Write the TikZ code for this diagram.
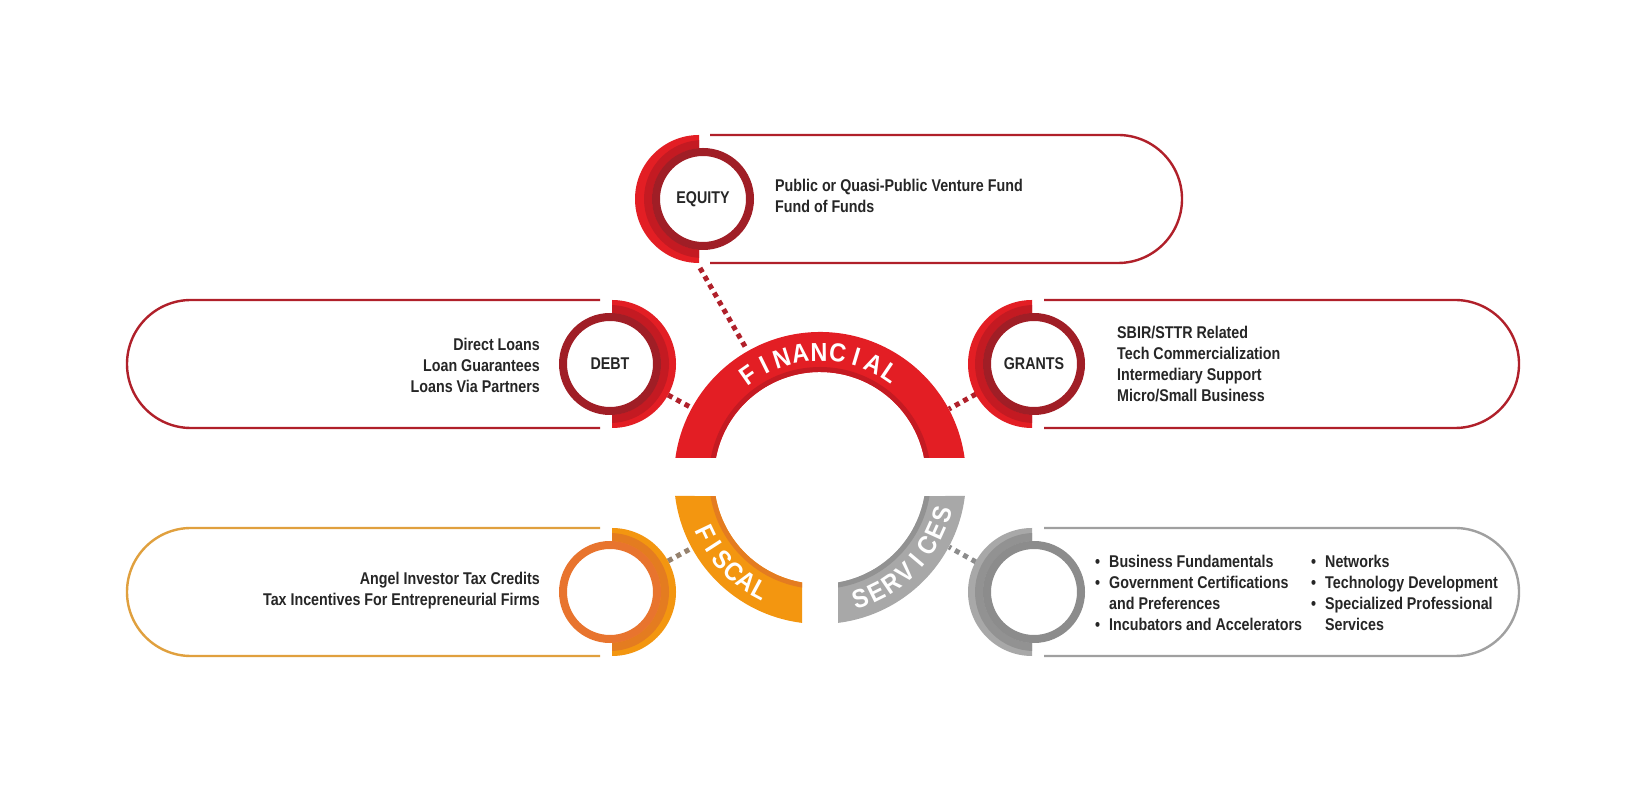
\documentclass[tikz,border=0pt]{standalone}
\usepackage{fontspec}
\setmainfont{Liberation Sans}
\newfontfamily\condfont{Liberation Sans}[FakeStretch=0.84]
\newfontfamily\arcfont{Liberation Sans}[FakeStretch=0.9]
\definecolor{cred}{RGB}{227,30,36}
\definecolor{credband}{RGB}{196,26,34}
\definecolor{cdred}{RGB}{160,30,38}
\definecolor{cpillred}{RGB}{176,32,42}
\definecolor{corange}{RGB}{243,150,16}
\definecolor{corangeband}{RGB}{228,124,32}
\definecolor{cdorange}{RGB}{232,116,46}
\definecolor{cpillorange}{RGB}{224,160,62}
\definecolor{cdotorange}{RGB}{150,130,110}
\definecolor{cgray}{RGB}{168,168,168}
\definecolor{cgrayband}{RGB}{146,146,146}
\definecolor{cdgray}{RGB}{140,140,140}
\definecolor{cpillgray}{RGB}{160,160,160}
\definecolor{ctext}{RGB}{38,38,38}
\tikzset{
  pill/.style={line width=2.4pt},
  ringline/.style={line width=8pt, fill=white},
  dots/.style={line width=5pt, dash pattern=on 5pt off 4.5pt},
  body/.style={inner sep=0pt, text=ctext, font=\condfont\bfseries\fontsize{17}{21}\selectfont},
  ringlbl/.style={inner sep=0pt, text=ctext, font=\condfont\bfseries\fontsize{17}{21}\selectfont},
  arclet/.style={inner sep=0pt, text=white, font=\arcfont\bfseries\fontsize{26}{26}\selectfont},
}
\newcommand{\bul}{\makebox[14pt][l]{\textbullet}}
\newcommand{\ind}{\hspace*{14pt}}
\begin{document}
\begin{tikzpicture}[x=1pt,y=1pt]
\path[fill=white, use as bounding box] (0,0) rectangle (1648,792);

% ---------- connectors (drawn first, underneath) ----------
\coordinate (eqA) at (700,524);  \coordinate (eqB) at (747,442);
\coordinate (deA) at (668,397);  \coordinate (deB) at (692,384);
\coordinate (grA) at (976,398);  \coordinate (grB) at (949,383);
\coordinate (fiA) at (668,231);  \coordinate (fiB) at (692,244);
\coordinate (seA) at (976,230);  \coordinate (seB) at (949,245);
\draw[dots, cpillred] (eqA) -- (eqB);
\draw[dots, cpillred] (deA) -- (deB);
\draw[dots, cpillred] (grA) -- (grB);
\draw[dots, cdotorange] (fiA) -- (fiB);
\draw[dots, cdgray] (seA) -- (seB);

% ---------- central arcs ----------
\begin{scope}
\clip (964.62,334) arc[start angle=7.87,end angle=172.13,radius=146] -- (715.90,334) arc[start angle=169.13,end angle=10.87,radius=106] -- cycle;
\fill[cred] (660,300) rectangle (980,480);
\draw[credband, line width=10pt] (820,314) circle (106);
\end{scope}
\begin{scope}
\clip (675.11,296) arc[start angle=187.08,end angle=262.92,radius=146] -- (802,209.54) arc[start angle=260.22,end angle=189.78,radius=106] -- cycle;
\fill[corange] (660,150) rectangle (810,300);
\draw[corangeband, line width=10pt] (820,314) circle (106);
\end{scope}
\begin{scope}
\clip (964.89,296) arc[start angle=-7.08,end angle=-82.92,radius=146] -- (838,209.54) arc[start angle=-80.22,end angle=-9.78,radius=106] -- cycle;
\fill[cgray] (830,150) rectangle (980,300);
\draw[cgrayband, line width=10pt] (820,314) circle (106);
\end{scope}
\foreach \ch [count=\i] in {F,I,N,A,N,C,I,A,L} {
  \pgfmathsetmacro\ang{125-(\i-1)*69/8}
  \pgfmathsetmacro\rot{\ang-90}
  \node[arclet, rotate=\rot] (fin\i) at ({820+126*cos(\ang)},{314+126*sin(\ang)}) {\ch};
}
\foreach \ch [count=\i] in {F,I,S,C,A,L} {
  \pgfmathsetmacro\ang{205.6+(\i-1)*36.1/5}
  \pgfmathsetmacro\rot{\ang+90}
  \node[arclet, rotate=\rot] (fis\i) at ({820+127*cos(\ang)},{314+127*sin(\ang)}) {\ch};
}
\foreach \ch [count=\i] in {S,E,R,V,I,C,E,S} {
  \pgfmathsetmacro\ang{288.4+(\i-1)*55.1/7}
  \pgfmathsetmacro\rot{\ang+90}
  \node[arclet, rotate=\rot] (ser\i) at ({820+127*cos(\ang)},{314+127*sin(\ang)}) {\ch};
}

% ---------- EQUITY ----------
\draw[pill, cpillred] (710,657) -- (1118,657) arc[start angle=90,end angle=-90,radius=64] -- (710,529);
\fill[cred] (699,657) arc[start angle=90,end angle=270,radius=64] -- cycle;
\begin{scope}
\clip (699,657) arc[start angle=90,end angle=270,radius=64] -- cycle;
\draw[credband, line width=8pt] (703,593) circle (55);
\end{scope}
\draw[ringline, draw=cdred] (703,593) circle (47);
\node[ringlbl] (equity) at (703,593) {EQUITY};
\node[body, anchor=west, align=left] (equitytxt) at (775,596) {Public or Quasi-Public Venture Fund\\Fund of Funds};

% ---------- DEBT ----------
\draw[pill, cpillred] (600,492) -- (191,492) arc[start angle=90,end angle=270,radius=64] -- (600,364);
\fill[cred] (612,492) arc[start angle=90,end angle=-90,radius=64] -- cycle;
\begin{scope}
\clip (612,492) arc[start angle=90,end angle=-90,radius=64] -- cycle;
\draw[credband, line width=8pt] (610,428) circle (55);
\end{scope}
\draw[ringline, draw=cdred] (610,428) circle (47);
\node[ringlbl] (debt) at (610,428) {DEBT};
\node[body, anchor=east, align=right] (debttxt) at (540,427) {Direct Loans\\Loan Guarantees\\Loans Via Partners};

% ---------- GRANTS ----------
\draw[pill, cpillred] (1044,492) -- (1455,492) arc[start angle=90,end angle=-90,radius=64] -- (1044,364);
\fill[cred] (1032,492) arc[start angle=90,end angle=270,radius=64] -- cycle;
\begin{scope}
\clip (1032,492) arc[start angle=90,end angle=270,radius=64] -- cycle;
\draw[credband, line width=8pt] (1034,428) circle (55);
\end{scope}
\draw[ringline, draw=cdred] (1034,428) circle (47);
\node[ringlbl] (grants) at (1034,428) {GRANTS};
\node[body, anchor=west, align=left] (grantstxt) at (1117,428) {SBIR/STTR Related\\Tech Commercialization\\Intermediary Support\\Micro/Small Business};

% ---------- FISCAL ----------
\draw[pill, cpillorange] (600,264) -- (191,264) arc[start angle=90,end angle=270,radius=64] -- (600,136);
\fill[corange] (612,264) arc[start angle=90,end angle=-90,radius=64] -- cycle;
\begin{scope}
\clip (612,264) arc[start angle=90,end angle=-90,radius=64] -- cycle;
\draw[corangeband, line width=8pt] (610,200) circle (55);
\end{scope}
\draw[ringline, draw=cdorange] (610,200) circle (47);
\node[body, anchor=east, align=right] (fiscaltxt) at (540,201) {Angel Investor Tax Credits\\Tax Incentives For Entrepreneurial Firms};

% ---------- SERVICES ----------
\draw[pill, cpillgray] (1044,264) -- (1455,264) arc[start angle=90,end angle=-90,radius=64] -- (1044,136);
\fill[cgray] (1032,264) arc[start angle=90,end angle=270,radius=64] -- cycle;
\begin{scope}
\clip (1032,264) arc[start angle=90,end angle=270,radius=64] -- cycle;
\draw[cgrayband, line width=8pt] (1034,200) circle (55);
\end{scope}
\draw[ringline, draw=cdgray] (1034,200) circle (47);
\node[body, anchor=west, align=left] (servA) at (1095,199) {\bul Business Fundamentals\\\bul Government Certifications\\\ind and Preferences\\\bul Incubators and Accelerators};
\node[body, anchor=west, align=left] (servB) at (1311,199) {\bul Networks\\\bul Technology Development\\\bul Specialized Professional\\\ind Services};
\end{tikzpicture}
\end{document}
